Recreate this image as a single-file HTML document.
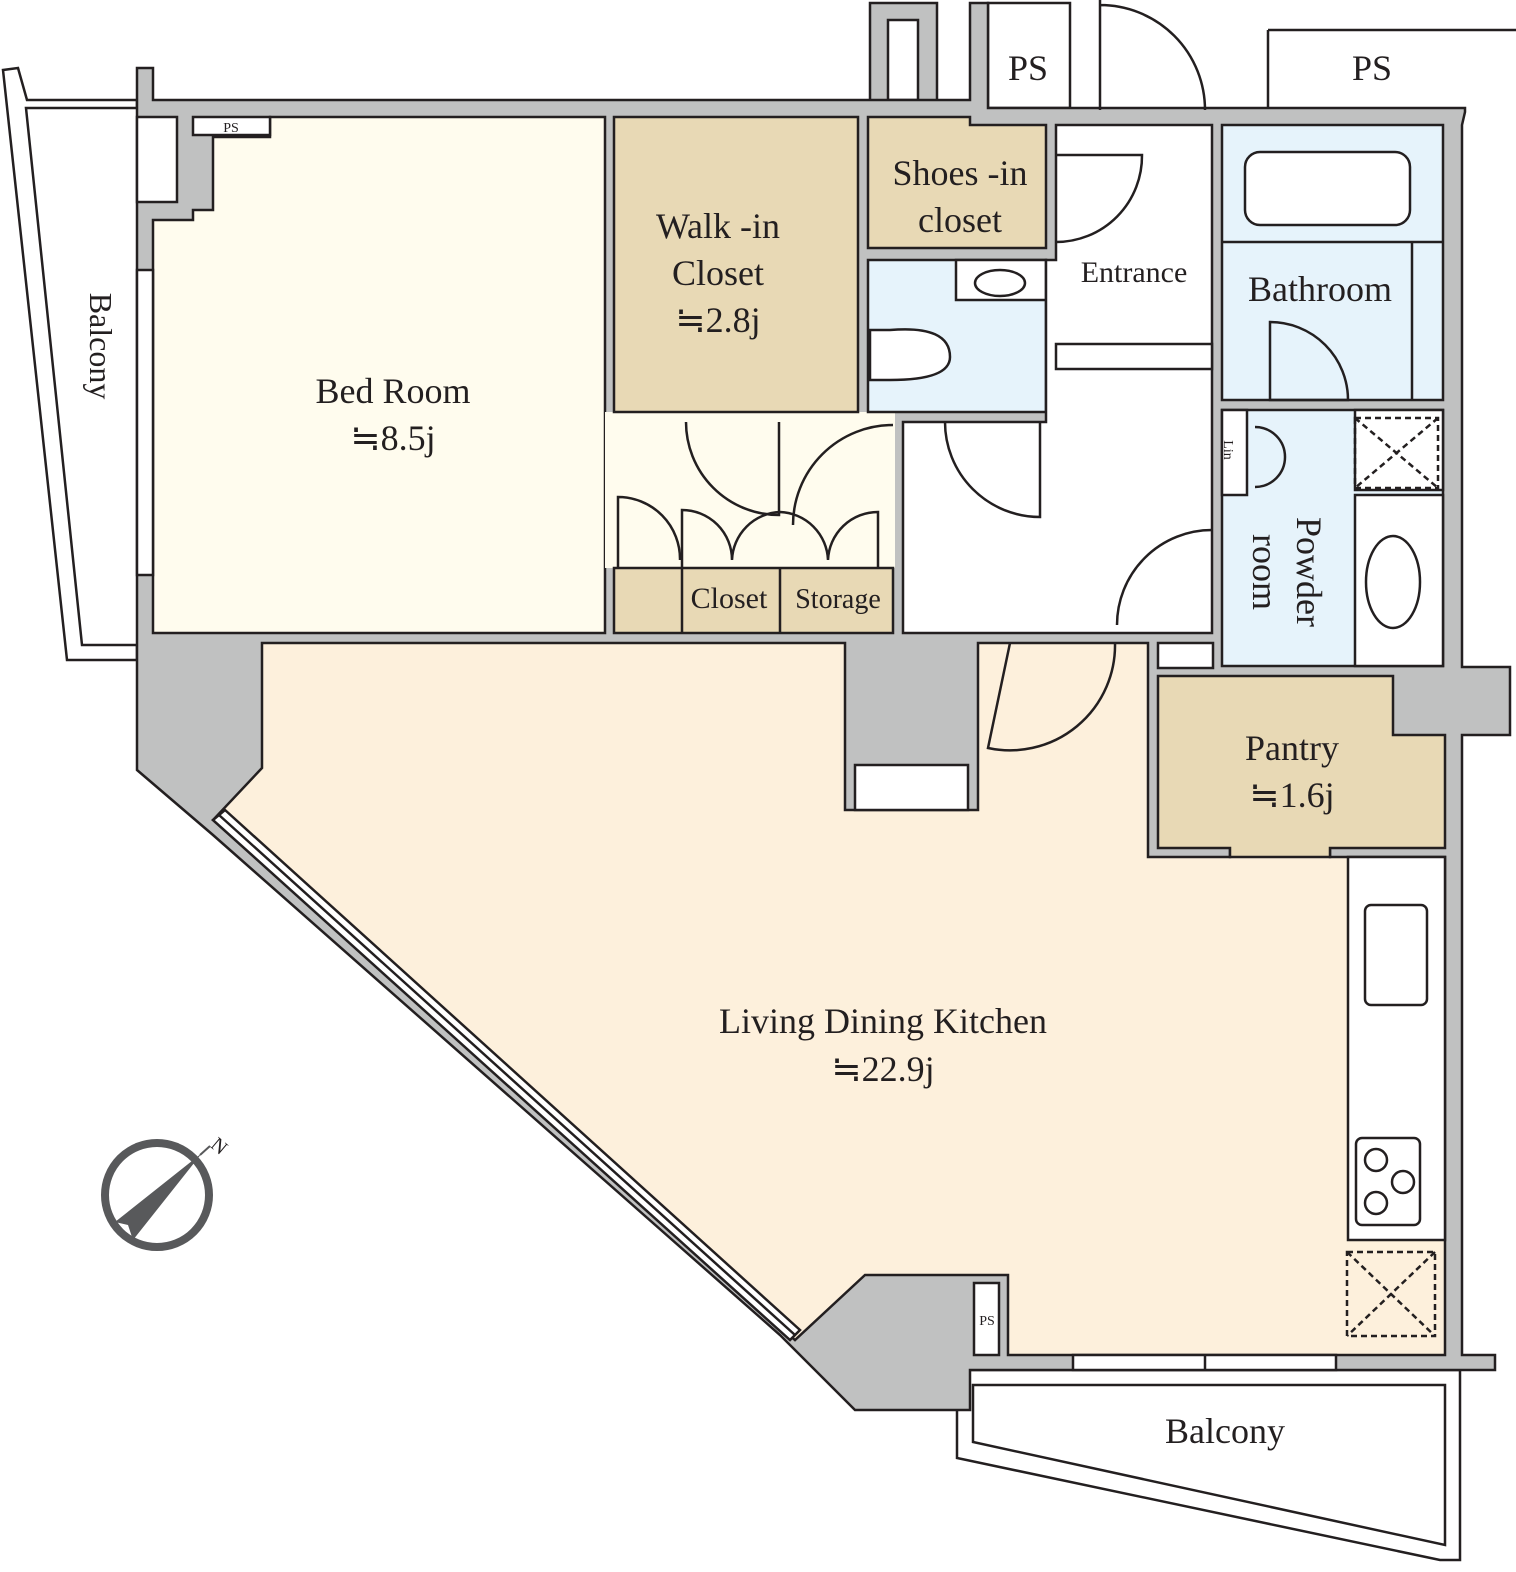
<!DOCTYPE html>
<html><head><meta charset="utf-8"><style>
html,body{margin:0;padding:0;background:#fff;}
svg{display:block}
text{font-family:"Liberation Serif",serif;fill:#231f20}
</style></head><body>
<svg width="1516" height="1572" viewBox="0 0 1516 1572" xmlns="http://www.w3.org/2000/svg">
<g stroke="#231f20" stroke-width="2.5" stroke-linejoin="miter">
<polygon points="3,70 18,68 27,100 137,100 137,108 26,108 82,645 137,645 137,660 67,660" fill="#fff"/>
<polygon points="957,1370 1460,1370 1460,1560 1440,1560 957,1458" fill="#fff"/>
<polygon points="973,1385 1445,1385 1445,1545 973,1442" fill="#fff"/>
<rect x="870" y="3" width="67" height="100" fill="#c0c1c1"/>
<rect x="888" y="20" width="30" height="80" fill="#fff"/>
<rect x="988" y="3" width="82" height="105" fill="#fff"/>
<polyline points="1268,30 1516,30" fill="none"/>
<polyline points="1268,30 1268,108" fill="none"/>
<polygon points="137,68 153,68 153,100 970,100 970,3 988,3 988,108 1465,108 1465,112 1462,125 1462,667 1510,667 1510,735 1462,735 1462,1355 1495,1355 1495,1370 970,1370 970,1410 855,1410 780,1335 213,835 137,770" fill="#c0c1c1"/>
<polygon points="153,220 193,220 193,210 213,210 213,137 270,137 270,117 605,117 605,633 153,633" fill="#fffcee"/>
<rect x="137" y="117" width="40" height="85" fill="#fff"/>
<rect x="193" y="117" width="77" height="18" fill="#fff"/>
<rect x="605" y="412" width="290" height="156" fill="#fffcee" stroke="none"/>
<rect x="614" y="117" width="244" height="295" fill="#e8d9b5"/>
<polygon points="868,117 970,117 970,125 1046,125 1046,248 868,248" fill="#e8d9b5"/>
<rect x="868" y="260" width="178" height="152" fill="#e6f3fb"/>
<rect x="956" y="260" width="90" height="40" fill="#fff"/>
<ellipse cx="1000" cy="283" rx="25" ry="13" fill="#fff"/>
<path d="M870,330 L890,330 Q950,325 950,357 Q950,380 890,380 L870,380 Z" fill="#fff"/>
<polygon points="1056,125 1212,125 1212,633 903,633 903,422 1046,422 1046,260 1056,260" fill="#fff"/>
<rect x="1056" y="344" width="156" height="25" fill="#fff"/>
<rect x="1222" y="125" width="221" height="275" fill="#e6f3fb"/>
<rect x="1245" y="152" width="165" height="73" rx="15" fill="#fff"/>
<line x1="1222" y1="242" x2="1443" y2="242"/>
<line x1="1412" y1="242" x2="1412" y2="400"/>
<rect x="1222" y="410" width="221" height="256" fill="#e6f3fb"/>
<rect x="1222" y="410" width="25" height="85" fill="#fff"/>
<rect x="1355" y="410" width="88" height="80" fill="#fff"/>
<rect x="1355" y="495" width="88" height="171" fill="#fff"/>
<ellipse cx="1393" cy="582" rx="27" ry="46" fill="#fff"/>
<rect x="1158" y="643" width="55" height="25" fill="#fff"/>
<rect x="614" y="568" width="279" height="65" fill="#e8d9b5"/>
<line x1="682" y1="568" x2="682" y2="633"/>
<line x1="780" y1="568" x2="780" y2="633"/>
<polygon points="262,643 845,643 845,810 978,810 978,643 1148,643 1148,857 1230,857 1230,848 1330,848 1330,857 1445,857 1445,1355 1008,1355 1008,1275 865,1275 795,1340 213,820 262,768" fill="#fdf0dc"/>
<rect x="855" y="765" width="113" height="45" fill="#fff"/>
<rect x="974" y="1283" width="25" height="72" fill="#fff"/>
<polygon points="1158,676 1393,676 1393,735 1445,735 1445,848 1330,848 1330,857 1230,857 1230,848 1158,848" fill="#e8d9b5"/>
<rect x="1348" y="857" width="97" height="383" fill="#fff"/>
<rect x="1365" y="905" width="62" height="100" rx="6" fill="#fff"/>
<rect x="1356" y="1138" width="64" height="87" rx="6" fill="#fff"/>
<circle cx="1376" cy="1160" r="11" fill="#fff"/>
<circle cx="1403" cy="1182" r="11" fill="#fff"/>
<circle cx="1376" cy="1203" r="11" fill="#fff"/>
<rect x="1347" y="1252" width="88" height="84" fill="none" stroke-dasharray="6,4"/>
<line x1="1347" y1="1252" x2="1435" y2="1336" stroke-dasharray="6,4"/>
<line x1="1435" y1="1252" x2="1347" y2="1336" stroke-dasharray="6,4"/>
<rect x="1355" y="418" width="83" height="70" fill="none" stroke-dasharray="6,4"/>
<line x1="1355" y1="418" x2="1438" y2="488" stroke-dasharray="6,4"/>
<line x1="1438" y1="418" x2="1355" y2="488" stroke-dasharray="6,4"/>
<polygon points="213,820 225,810 800,1330 790,1340" fill="#fff"/>
<line x1="219" y1="815" x2="795" y2="1335"/>
<rect x="1073" y="1355" width="263" height="15" fill="#fff"/>
<line x1="1205" y1="1355" x2="1205" y2="1370"/>
<rect x="137" y="270" width="16" height="305" fill="#fff"/>
<g fill="none">
<path d="M1056,155 L1142,155 A86,86 0 0 1 1056,242"/>
<path d="M1100,0 L1100,110 M1100,5 A105,105 0 0 1 1205,110"/>
<path d="M686,422 A93,93 0 0 0 779,515 L779,422"/>
<path d="M893,425 A100,100 0 0 0 793,525"/>
<path d="M945,422 A95,95 0 0 0 1040,517 L1040,422"/>
<path d="M1212,530 A95,95 0 0 0 1117,625"/>
<path d="M1115,643 A105,105 0 0 1 988,748 L1010,643"/>
<path d="M1270,322 A78,78 0 0 1 1348,400 L1270,400 Z"/>
<path d="M618,568 L618,497 A62,62 0 0 1 680,560"/>
<path d="M682,568 L682,510 A50,50 0 0 1 732,560 A50,50 0 0 1 780,512 A50,50 0 0 1 828,560 A50,50 0 0 1 878,512 L878,568"/>
<path d="M1255,427 A30,30 0 0 1 1285,457 A30,30 0 0 1 1255,487"/>
</g>
</g>
<g font-size="36" text-anchor="middle">
<text x="393" y="403">Bed Room</text>
<text x="393" y="450">≒8.5j</text>
<text x="718" y="238">Walk -in</text>
<text x="718" y="285">Closet</text>
<text x="718" y="332">≒2.8j</text>
<text x="960" y="185">Shoes -in</text>
<text x="960" y="232">closet</text>
<text x="1320" y="301">Bathroom</text>
<text x="1292" y="760">Pantry</text>
<text x="1292" y="807">≒1.6j</text>
<text x="883" y="1033">Living Dining Kitchen</text>
<text x="883" y="1081">≒22.9j</text>
<text x="1225" y="1443">Balcony</text>
<text x="1028" y="80">PS</text>
<text x="1372" y="80">PS</text>
</g>
<g font-size="30" text-anchor="middle">
<text x="1134" y="282">Entrance</text>
<text x="729" y="608">Closet</text>
<text x="838" y="608" font-size="28">Storage</text>
</g>
<text x="231" y="132" font-size="14" text-anchor="middle">PS</text>
<text x="987" y="1325" font-size="14" text-anchor="middle">PS</text>
<text transform="translate(1224,450) rotate(90)" font-size="14" text-anchor="middle">Lin</text>
<text transform="translate(90,346) rotate(90)" font-size="32" text-anchor="middle">Balcony</text>
<text transform="translate(1297,572) rotate(90)" font-size="36" text-anchor="middle">Powder</text>
<text transform="translate(1253,572) rotate(90)" font-size="36" text-anchor="middle">room</text>
<circle cx="157" cy="1195" r="52" fill="none" stroke="#58595b" stroke-width="8"/>
<polygon points="202,1153 115,1222 128,1225 133,1240" fill="#58595b"/>
<line x1="200" y1="1155" x2="210" y2="1146" stroke="#58595b" stroke-width="2"/>
<text x="214" y="1148" font-size="20" fill="#58595b" transform="rotate(40 214 1141)">N</text>
</svg>
</body></html>
